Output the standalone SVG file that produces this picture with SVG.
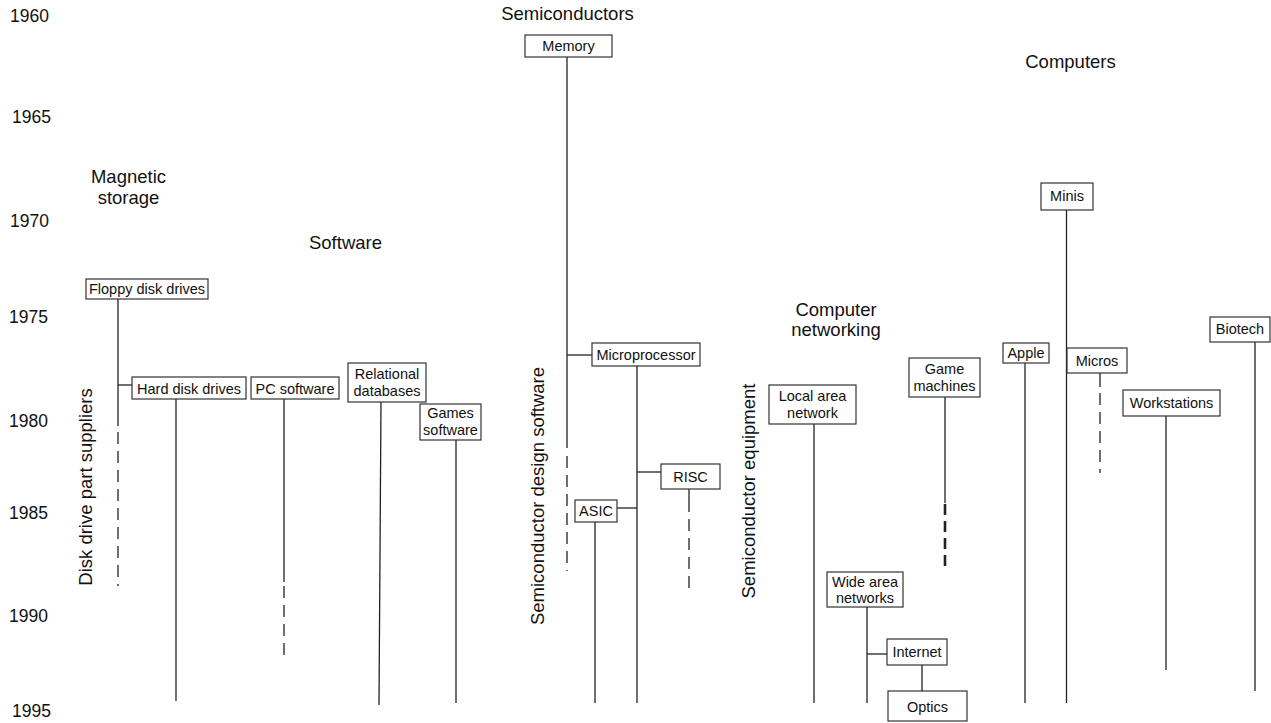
<svg xmlns="http://www.w3.org/2000/svg" width="1271" height="723" viewBox="0 0 1271 723">
<style>
text{font-family:"Liberation Sans",Arial,sans-serif;fill:#111}
.yr{font-size:17.5px}
.hd{font-size:18.5px;text-anchor:middle}
.bx{font-size:14.5px;text-anchor:middle}
rect{fill:#fff;stroke:#333;stroke-width:1.2}
line{stroke:#222;stroke-width:1.3;fill:none}
.d{stroke-dasharray:12 7}
.dt{stroke-dasharray:11 6;stroke-width:2.6}
</style>
<rect x="0" y="0" width="1271" height="723" style="stroke:none"/>
<g id="years">
<text class="yr" x="10" y="22">1960</text>
<text class="yr" x="12" y="123">1965</text>
<text class="yr" x="10" y="227">1970</text>
<text class="yr" x="9" y="323">1975</text>
<text class="yr" x="9" y="427">1980</text>
<text class="yr" x="9" y="519">1985</text>
<text class="yr" x="9" y="622">1990</text>
<text class="yr" x="12" y="717">1995</text>
</g>
<g id="headers">
<text class="hd" x="128.5" y="183">Magnetic</text>
<text class="hd" x="128.5" y="204">storage</text>
<text class="hd" x="345.5" y="249">Software</text>
<text class="hd" x="567.5" y="20">Semiconductors</text>
<text class="hd" x="836" y="316">Computer</text>
<text class="hd" x="836" y="336">networking</text>
<text class="hd" x="1070.5" y="68">Computers</text>
<text class="hd" transform="translate(92,487) rotate(-90)">Disk drive part suppliers</text>
<text class="hd" transform="translate(544,496) rotate(-90)">Semiconductor design software</text>
<text class="hd" transform="translate(755,491) rotate(-90)">Semiconductor equipment</text>
</g>
<g id="connectors">
<line x1="118" y1="299" x2="118" y2="426"/>
<line class="d" x1="118" y1="432" x2="118" y2="586"/>
<line x1="118" y1="385" x2="132" y2="385"/>
<line x1="176" y1="399" x2="176" y2="701"/>
<line x1="284" y1="399" x2="284" y2="582"/>
<line class="d" x1="284" y1="586" x2="284" y2="657"/>
<line x1="381" y1="402" x2="379" y2="705"/>
<line x1="456" y1="440" x2="456" y2="703"/>
<line x1="567" y1="57" x2="567" y2="448"/>
<line class="d" x1="567" y1="456" x2="567" y2="571"/>
<line x1="567" y1="355" x2="592" y2="355"/>
<line x1="637" y1="366" x2="637" y2="703"/>
<line x1="637" y1="472" x2="661" y2="472"/>
<line x1="617" y1="508" x2="637" y2="508"/>
<line x1="595" y1="522" x2="595" y2="703"/>
<line x1="689" y1="489" x2="689" y2="512"/>
<line class="d" x1="689" y1="519" x2="689" y2="593"/>
<line x1="814" y1="424" x2="814" y2="703"/>
<line x1="945" y1="397" x2="945" y2="503"/>
<line class="dt" x1="945" y1="504" x2="945" y2="571"/>
<line x1="867" y1="607" x2="867" y2="703"/>
<line x1="867" y1="654" x2="887" y2="654"/>
<line x1="922" y1="665" x2="922" y2="691"/>
<line x1="1025" y1="363" x2="1025" y2="703"/>
<line x1="1066.5" y1="210" x2="1066.5" y2="703"/>
<line x1="1100" y1="373" x2="1100" y2="387"/>
<line class="d" x1="1100" y1="393" x2="1100" y2="473"/>
<line x1="1166" y1="416" x2="1166" y2="670"/>
<line x1="1255" y1="342" x2="1255" y2="691"/>
</g>
<g id="floppy"><rect x="86" y="279" width="122" height="20"/><text class="bx" x="147" y="294">Floppy disk drives</text></g>
<g id="harddisk"><rect x="132" y="377" width="114" height="22"/><text class="bx" x="189" y="394">Hard disk drives</text></g>
<g id="pcsoftware"><rect x="251" y="377" width="88" height="22"/><text class="bx" x="295" y="394">PC software</text></g>
<g id="relational"><rect x="348" y="363" width="78" height="39"/><text class="bx" x="387" y="379">Relational</text><text class="bx" x="387" y="396">databases</text></g>
<g id="games"><rect x="420" y="404" width="61" height="36"/><text class="bx" x="450.5" y="418">Games</text><text class="bx" x="450.5" y="435">software</text></g>
<g id="memory"><rect x="525" y="35" width="87" height="22"/><text class="bx" x="568.5" y="51">Memory</text></g>
<g id="microprocessor"><rect x="592" y="343" width="108" height="23"/><text class="bx" x="646" y="360">Microprocessor</text></g>
<g id="risc"><rect x="661" y="464" width="59" height="25"/><text class="bx" x="690.5" y="482">RISC</text></g>
<g id="asic"><rect x="575" y="500" width="42" height="22"/><text class="bx" x="596" y="516">ASIC</text></g>
<g id="lan"><rect x="769" y="385" width="87" height="39"/><text class="bx" x="812.5" y="401">Local area</text><text class="bx" x="812.5" y="418">network</text></g>
<g id="gamemachines"><rect x="909" y="358" width="71" height="39"/><text class="bx" x="944.5" y="374">Game</text><text class="bx" x="944.5" y="391">machines</text></g>
<g id="wan"><rect x="827" y="572" width="76" height="35"/><text class="bx" x="865" y="587">Wide area</text><text class="bx" x="865" y="603">networks</text></g>
<g id="internet"><rect x="887" y="639" width="60" height="26"/><text class="bx" x="917" y="657">Internet</text></g>
<g id="optics"><rect x="888" y="691" width="79" height="30"/><text class="bx" x="927.5" y="712">Optics</text></g>
<g id="apple"><rect x="1003" y="343" width="46" height="20"/><text class="bx" x="1026" y="358">Apple</text></g>
<g id="minis"><rect x="1041" y="183" width="52" height="27"/><text class="bx" x="1067" y="201">Minis</text></g>
<g id="micros"><rect x="1067" y="348" width="60" height="25"/><text class="bx" x="1097" y="366">Micros</text></g>
<g id="workstations"><rect x="1123" y="390" width="97" height="26"/><text class="bx" x="1171.5" y="408">Workstations</text></g>
<g id="biotech"><rect x="1210" y="317" width="60" height="25"/><text class="bx" x="1240" y="334">Biotech</text></g>
</svg>
